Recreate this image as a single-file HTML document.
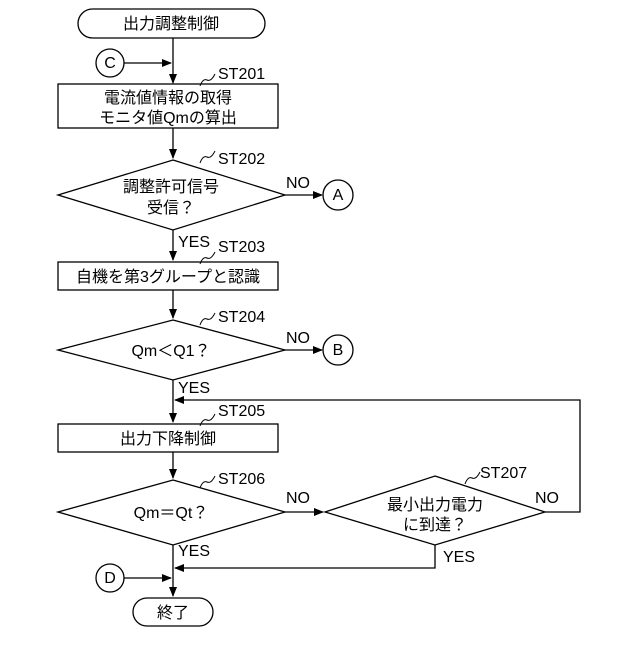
<!DOCTYPE html><html><head><meta charset="utf-8"><style>body{margin:0;background:#fff}</style></head><body>
<svg width="640" height="640" viewBox="0 0 640 640" xmlns="http://www.w3.org/2000/svg" font-family="Liberation Sans, Noto Sans CJK JP, sans-serif" font-size="16" fill="none" stroke="#000" stroke-width="1.3">
<defs><marker id="a" markerWidth="10" markerHeight="10" refX="9" refY="5" orient="auto" markerUnits="userSpaceOnUse"><path d="M0,1 L10,5 L0,9Z" fill="#000" stroke="none"/></marker></defs>
<rect x="78" y="9" width="187" height="29" rx="14.5"/>
<circle cx="110" cy="63" r="14"/>
<line x1="124" y1="63" x2="171" y2="63" marker-end="url(#a)"/>
<line x1="173" y1="38" x2="173" y2="83" marker-end="url(#a)"/>
<rect x="58" y="84" width="220" height="44"/>
<line x1="173" y1="128" x2="173" y2="158" marker-end="url(#a)"/>
<polygon points="173,160 285,195 173,230 58,195"/>
<line x1="285" y1="195" x2="322" y2="195" marker-end="url(#a)"/>
<circle cx="338" cy="195" r="15"/>
<line x1="173" y1="230" x2="173" y2="260" marker-end="url(#a)"/>
<rect x="58" y="262" width="220" height="28"/>
<line x1="173" y1="290" x2="173" y2="318" marker-end="url(#a)"/>
<polygon points="173,320 285,350 173,380 58,350"/>
<line x1="285" y1="350" x2="322" y2="350" marker-end="url(#a)"/>
<circle cx="338" cy="350" r="15"/>
<line x1="173" y1="380" x2="173" y2="422" marker-end="url(#a)"/>
<polyline points="545,512 580,512 580,400 175,400" marker-end="url(#a)"/>
<rect x="58" y="424" width="220" height="28"/>
<line x1="173" y1="452" x2="173" y2="478" marker-end="url(#a)"/>
<polygon points="173,480 285,512 173,545 58,512"/>
<line x1="285" y1="512" x2="323" y2="512" marker-end="url(#a)"/>
<polygon points="435,476 545,512 435,545 325,512"/>
<polyline points="435,545 435,568 175,568" marker-end="url(#a)"/>
<circle cx="110" cy="578" r="14"/>
<line x1="124" y1="578" x2="171" y2="578" marker-end="url(#a)"/>
<line x1="173" y1="545" x2="173" y2="596" marker-end="url(#a)"/>
<rect x="133" y="598" width="80" height="28" rx="14"/>
<g stroke-width="1">
<path d="M200,86 q3,-8 7,-6 q4,2 8,-6"/>
<path d="M200,163 q3,-8 7,-6 q4,2 8,-6"/>
<path d="M200,264 q3,-8 7,-6 q4,2 8,-6"/>
<path d="M200,325 q3,-8 7,-6 q4,2 8,-6"/>
<path d="M200,426 q3,-8 7,-6 q4,2 8,-6"/>
<path d="M200,488 q3,-8 7,-6 q4,2 8,-6"/>
<path d="M465,484 q3,-8 7,-6 q4,2 8,-6"/>
</g>
<g fill="#000" stroke="none">
<text x="171" y="29" text-anchor="middle">出力調整制御</text>
<text x="110" y="68" text-anchor="middle">C</text>
<text x="218" y="79">ST201</text>
<text x="168" y="103" text-anchor="middle">電流値情報の取得</text>
<text x="168" y="123" text-anchor="middle">モニタ値Qmの算出</text>
<text x="218" y="164">ST202</text>
<text x="171" y="192" text-anchor="middle">調整許可信号</text>
<text x="171" y="213" text-anchor="middle">受信？</text>
<text x="286" y="188">NO</text>
<text x="338" y="200" text-anchor="middle">A</text>
<text x="178" y="247">YES</text>
<text x="218" y="252">ST203</text>
<text x="168" y="282" text-anchor="middle">自機を第3グループと認識</text>
<text x="218" y="322">ST204</text>
<text x="171" y="356" text-anchor="middle">Qm＜Q1？</text>
<text x="286" y="343">NO</text>
<text x="338" y="355" text-anchor="middle">B</text>
<text x="178" y="393">YES</text>
<text x="218" y="416">ST205</text>
<text x="168" y="444" text-anchor="middle">出力下降制御</text>
<text x="218" y="484">ST206</text>
<text x="171" y="518" text-anchor="middle">Qm＝Qt？</text>
<text x="286" y="503">NO</text>
<text x="480" y="478">ST207</text>
<text x="435" y="510" text-anchor="middle">最小出力電力</text>
<text x="435" y="530" text-anchor="middle">に到達？</text>
<text x="535" y="503">NO</text>
<text x="443" y="562">YES</text>
<text x="178" y="556">YES</text>
<text x="110" y="583" text-anchor="middle">D</text>
<text x="173" y="618" text-anchor="middle">終了</text>
</g>
</svg>
</body></html>
